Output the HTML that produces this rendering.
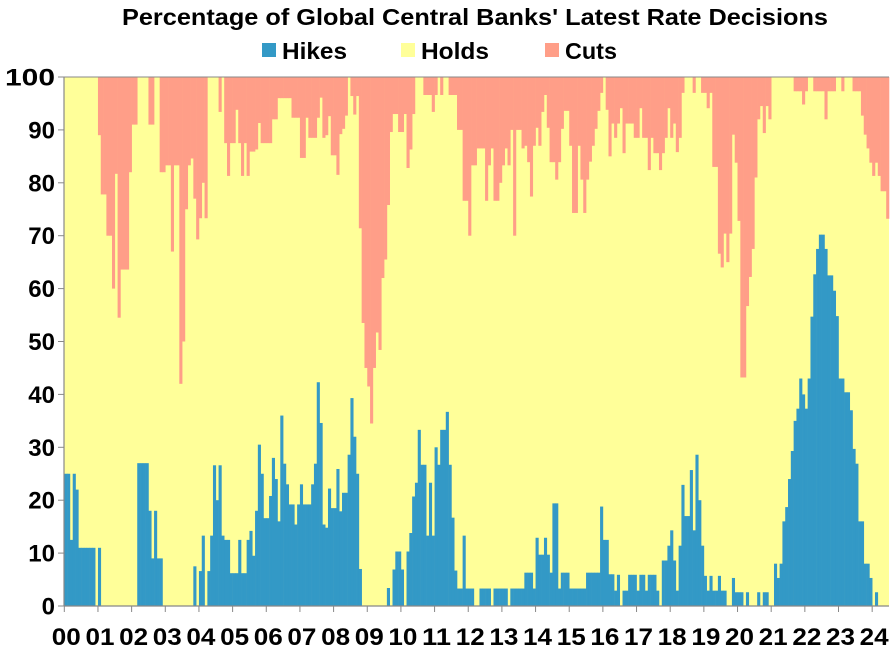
<!DOCTYPE html>
<html><head><meta charset="utf-8"><style>
html,body{margin:0;padding:0;background:#fff;width:895px;height:648px;overflow:hidden}
svg{display:block}
text{font-family:"Liberation Sans",Arial,sans-serif;font-weight:bold;fill:#000}
</style></head><body>
<svg id="s" width="895" height="648" xmlns="http://www.w3.org/2000/svg">
<text x="475" y="25" font-size="23" text-anchor="middle" textLength="706" lengthAdjust="spacingAndGlyphs">Percentage of Global Central Banks' Latest Rate Decisions</text>
<rect x="262" y="43" width="14" height="14" fill="#3399C6"/><text x="282" y="59" font-size="23" textLength="65" lengthAdjust="spacingAndGlyphs">Hikes</text>
<rect x="401" y="43" width="14" height="14" fill="#FFFF99"/><text x="421" y="59" font-size="23" textLength="68" lengthAdjust="spacingAndGlyphs">Holds</text>
<rect x="545" y="43" width="14" height="14" fill="#FF9E88"/><text x="565" y="59" font-size="23" textLength="52" lengthAdjust="spacingAndGlyphs">Cuts</text>
<rect x="64" y="77" width="825" height="529" fill="#FFFF99"/>
<g id="bars"></g>
<g id="ax"></g>
</svg>
<script>
var H=[[25,2],[12.5,1],[25,1],[22,1],[11,6],[0,1],[11,1],[0,13],[27,4],[18,1],[9,1],[18,1],[9,2],[0,11],[7.5,1],[0,1],[6.6,1],[13.3,1],[0,1],[6.6,1],[13.3,1],[26.6,1],[20,1],[26.6,1],[13.3,1],[12.5,2],[6.2,3],[12.5,1],[6.2,2],[12.5,1],[14.2,1],[9.5,1],[18,1],[30.5,1],[25,1],[16.6,2],[20.8,1],[28,1],[24,1],[16,1],[36,1],[26.9,1],[23,1],[19.2,2],[15.4,1],[19.2,1],[23,1],[19.2,3],[23,1],[26.9,1],[42.3,1],[34.6,1],[15.4,1],[14.8,1],[22.2,1],[18.5,2],[25.9,1],[17.9,1],[21.4,2],[28.6,1],[39.3,1],[32,1],[25,1],[7,1],[0,9],[3.4,1],[0,1],[6.9,1],[10.3,2],[6.9,1],[0,1],[10.3,1],[13.8,1],[20.7,1],[23.3,1],[33.3,1],[26.7,2],[13.3,1],[23.3,1],[13.3,1],[30,1],[26.7,1],[33.3,2],[36.7,1],[26.7,1],[16.7,1],[6.7,1],[3.3,2],[13.3,1],[3.3,3],[0,2],[3.3,4],[0,1],[3.3,5],[0,1],[3.3,5],[6.3,3],[3.3,1],[12.9,1],[9.7,2],[12.9,1],[9.7,1],[6.3,1],[19.4,2],[3.3,1],[6.3,3],[3.3,6],[6.3,5],[18.8,1],[12.5,2],[6,2],[2.9,1],[5.9,1],[0,1],[2.9,2],[5.9,3],[2.9,1],[5.9,2],[2.9,1],[5.9,3],[2.9,1],[0,1],[8.6,2],[11.4,1],[14.3,1],[8.6,1],[2.9,1],[11.4,1],[22.9,1],[17,2],[25.7,1],[14.3,1],[28.6,1],[20,1],[11.4,1],[5.7,1],[2.9,1],[5.7,1],[2.9,2],[5.7,1],[2.9,2],[0,2],[5.3,1],[2.6,3],[0,1],[2.6,1],[0,3],[2.6,1],[0,1],[2.6,2],[0,2],[8,1],[5.3,1],[8,1],[16,1],[18.7,1],[24,1],[29.3,1],[35,1],[37.3,1],[43,1],[40,1],[37.3,1],[43,1],[54.7,1],[62.7,1],[67.5,1],[70.2,2],[67.5,1],[62.5,2],[59.6,1],[54.8,1],[43,2],[40.4,2],[37,1],[29.7,1],[26.9,1],[16,2],[8,2],[5.3,1],[0,1],[2.6,1],[0,4]];
var C=[[0,12],[11,1],[22.2,2],[30,2],[40,1],[18.3,1],[45.5,1],[36.4,3],[18,1],[9,2],[0,4],[9,2],[0,2],[18,2],[16.7,2],[33,1],[16.7,2],[58,1],[50,1],[25,1],[16.7,1],[15.4,1],[23,1],[30.7,1],[26.7,1],[20,1],[26.7,1],[0,4],[6.6,1],[0,1],[12.5,1],[18.7,1],[12.5,2],[6.2,1],[12.5,1],[18.7,1],[12.5,1],[18.7,1],[14.1,2],[13.7,1],[8.7,1],[12.5,4],[8,2],[4,5],[7.7,3],[15.3,2],[7.7,1],[11.5,3],[7.7,1],[3.9,1],[11.5,1],[11,1],[7.4,1],[14.8,2],[18.5,1],[10.8,1],[9.8,1],[7.3,1],[0,1],[3.6,1],[7.1,1],[3.6,1],[28.6,1],[46.5,1],[55,1],[58.5,1],[65.5,1],[55,1],[48.3,1],[51.6,1],[38,1],[34.5,1],[24.2,1],[10.4,1],[7,2],[10.4,2],[7,1],[17.2,1],[13.7,1],[7,1],[0,3],[3.4,3],[6.6,1],[3.4,1],[0,1],[3.4,1],[0,2],[3.4,3],[10,2],[23.4,2],[30,1],[16.7,2],[13.5,3],[23.4,1],[16.7,1],[13.5,1],[23.4,2],[20,1],[16.7,1],[13.5,1],[16.7,1],[10,1],[30,1],[10,2],[13.5,1],[13,1],[16.1,1],[22.6,1],[13,1],[9.6,1],[13,1],[6.6,1],[3.4,1],[9.6,1],[16.1,2],[19.4,1],[16.1,1],[9.8,1],[6.4,2],[13,1],[25.7,2],[13,1],[19.4,1],[25.7,1],[19.4,1],[16,1],[13,1],[9.8,1],[6.4,1],[3,1],[0,1],[6.2,1],[15,1],[8.8,1],[11.5,1],[8.8,1],[5.9,1],[14.4,1],[8.8,3],[11.5,2],[5.9,1],[11.5,2],[17.6,1],[11.5,1],[14.4,2],[17.6,1],[14.4,1],[11.5,1],[5.9,1],[11.5,1],[8.8,1],[14.2,1],[11.5,1],[3,1],[0,3],[3,1],[0,2],[3,2],[5.9,1],[3,1],[17,2],[33.4,1],[36,1],[29.6,1],[35,1],[29.6,1],[10.9,1],[16.2,1],[27.2,1],[56.8,2],[43.3,1],[37.8,1],[32.5,1],[19,1],[8,1],[5.5,1],[10.6,1],[5.5,1],[8,1],[0,8],[2.7,3],[5.2,1],[2.7,1],[0,2],[2.7,4],[8,1],[2.7,3],[0,2],[2.7,1],[0,3],[2.7,3],[7.3,1],[10.9,1],[13.5,1],[16.2,1],[18.7,1],[16.2,1],[18.7,1],[21.6,2],[26.8,1]];
function ex(r){var a=[];r.forEach(function(p){for(var i=0;i<p[1];i++)a.push(p[0]);});while(a.length<294)a.push(0);return a.slice(0,294);}
var h=ex(H),c=ex(C),x0=64.3,w=(889-64.3)/294,y0=606,k=5.29,s='';
for(var i=0;i<294;i++){var x=x0+i*w;
if(h[i]>0)s+='<rect x="'+x.toFixed(2)+'" y="'+(y0-h[i]*k).toFixed(2)+'" width="'+(w+0.3).toFixed(2)+'" height="'+(h[i]*k).toFixed(2)+'" fill="#3399C6"/>';
if(c[i]>0)s+='<rect x="'+x.toFixed(2)+'" y="77" width="'+(w+0.3).toFixed(2)+'" height="'+(c[i]*k).toFixed(2)+'" fill="#FF9E88"/>';}
document.getElementById('bars').innerHTML=s;
var a='<line x1="64" y1="77" x2="889" y2="77" stroke="#888" stroke-width="1"/><line x1="64" y1="77" x2="64" y2="606" stroke="#888" stroke-width="1.2"/><line x1="64" y1="606" x2="889" y2="606" stroke="#888" stroke-width="1.2"/>';
for(var v=0;v<=100;v+=10){var y=606-v*5.29;a+='<line x1="58" y1="'+y+'" x2="64" y2="'+y+'" stroke="#888"/><text x="55" y="'+(y+8.5)+'" font-size="24" text-anchor="end"'+(v==100?' textLength="50" lengthAdjust="spacingAndGlyphs"':'')+'>'+v+'</text>';}
for(var yr=0;yr<=24;yr++){var x=64.3+yr*12*w;a+='<line x1="'+x+'" y1="606" x2="'+x+'" y2="612" stroke="#888"/><text x="'+(x+2)+'" y="645" font-size="24" text-anchor="middle" textLength="29" lengthAdjust="spacingAndGlyphs">'+(yr<10?'0':'')+yr+'</text>';}
document.getElementById('ax').innerHTML=a;
</script>
</body></html>
